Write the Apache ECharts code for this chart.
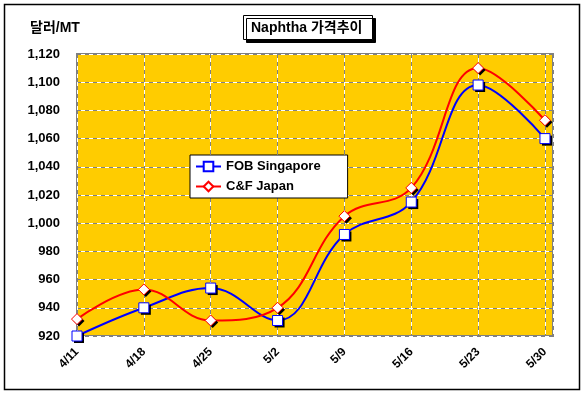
<!DOCTYPE html>
<html>
<head>
<meta charset="utf-8">
<script src="https://cdn.jsdelivr.net/npm/echarts@6/dist/echarts.min.js"></script>
<style>html,body{margin:0;padding:0;background:#fff;}#c{width:584px;height:394px;}</style>
</head>
<body>
<div id="c"></div>
<script>
const categories = ['4/11', '4/18', '4/25', '5/2', '5/9', '5/16', '5/23', '5/30'];
const fobSingapore = [920, 940, 954, 931, 992, 1015, 1098, 1060];
const cfJapan = [932, 953, 931, 940, 1005, 1025, 1110, 1073];
const seriesNames = ['FOB Singapore', 'C&F Japan'];
const yMin = 920, yMax = 1120, yStep = 20;

const FONT = '"Liberation Sans", Arial, "Noto Sans CJK KR", sans-serif';
const chart = echarts.init(document.getElementById('c'), null, {renderer: 'canvas'});

const toPairs = arr => arr.map((v, i) => [i, v]);
const fmtNum = v => v.toLocaleString('en-US');

const hiddenAxisBase = {
  axisLine: {show: false}, axisTick: {show: false}, axisLabel: {show: false}
};

const styles = [
  {color: '#0000FF', symbol: 'rect', size: 10},
  {color: '#FF0000', symbol: 'diamond', size: 11}
];
const datasets = [fobSingapore, cfJapan];

const series = [];
datasets.forEach((arr, k) => {
  const st = styles[k];
  series.push({
    name: seriesNames[k], type: 'line', smooth: 0.4,
    data: toPairs(arr),
    symbol: st.symbol, symbolSize: st.size, showSymbol: false,
    lineStyle: {color: st.color, width: 2},
    itemStyle: {color: '#fff', borderColor: st.color, borderWidth: 1},
    z: 2
  });
});
datasets.forEach((arr, k) => {
  const st = styles[k];
  series.push({
    name: 'shadow' + k, type: 'scatter', silent: true,
    data: toPairs(arr),
    symbol: st.symbol, symbolSize: st.size, symbolOffset: [2, 2],
    itemStyle: {color: '#000', opacity: 1},
    z: 3 + k * 2
  });
  series.push({
    name: 'marker' + k, type: 'scatter', silent: true,
    data: toPairs(arr),
    symbol: st.symbol, symbolSize: st.size,
    itemStyle: {color: '#fff', borderColor: st.color, borderWidth: 1, opacity: 1},
    z: 4 + k * 2
  });
});

chart.setOption({
  animation: false,
  backgroundColor: '#fff',
  title: [
    {
      text: 'Naphtha 가격추이',
      left: 243, top: 15,
      padding: [6, 10, 5, 8],
      borderColor: '#000', borderWidth: 1,
      backgroundColor: '#fff',
      shadowColor: '#000', shadowOffsetX: 3, shadowOffsetY: 3, shadowBlur: 0,
      textStyle: {fontFamily: FONT, fontSize: 14, fontWeight: 'bold', color: '#000'}
    },
    {
      text: '달러/MT',
      left: 30, top: 21,
      padding: 0,
      textStyle: {fontFamily: FONT, fontSize: 14, fontWeight: 'bold', color: '#000'}
    }
  ],
  legend: {
    orient: 'vertical',
    left: 190, top: 155,
    padding: [5, 27, 5, 5],
    itemGap: 7,
    itemWidth: 25, itemHeight: 12,
    borderColor: '#000', borderWidth: 1,
    backgroundColor: '#fff',
    data: seriesNames,
    textStyle: {fontFamily: FONT, fontSize: 13, fontWeight: 'bold', color: '#000'}
  },
  graphic: [
    {type: 'rect', shape: {x: 4.5, y: 4.5, width: 575, height: 385}, style: {fill: 'none', stroke: '#000', lineWidth: 1.5}, silent: true, z: 100}
  ],
  grid: {
    left: 77, right: 31, top: 54, bottom: 58,
    show: true, backgroundColor: '#FFCC00', borderColor: '#808080', borderWidth: 2
  },
  xAxis: [
    {
      type: 'value', min: 0, max: 7.12, interval: 1,
      axisLine: {show: false}, axisTick: {show: false},
      axisLabel: {
        rotate: 45, margin: 14,
        fontFamily: FONT, fontSize: 12, fontWeight: 'bold', color: '#000',
        showMaxLabel: false,
        formatter: v => Number.isInteger(v) ? categories[v] : ''
      },
      splitLine: {show: true, lineStyle: {color: '#808080', width: 1, type: [4, 4]}}
    },
    Object.assign({
      type: 'value', min: 0, max: 7.12, interval: 1,
      splitLine: {show: true, lineStyle: {color: '#fff', width: 1, type: [4, 4], dashOffset: 4}}
    }, hiddenAxisBase)
  ],
  yAxis: [
    {
      type: 'value', min: yMin, max: yMax, interval: yStep,
      axisLine: {show: false}, axisTick: {show: false},
      axisLabel: {
        margin: 17,
        fontFamily: FONT, fontSize: 13, fontWeight: 'bold', color: '#000',
        formatter: v => fmtNum(v)
      },
      splitLine: {show: true, lineStyle: {color: '#808080', width: 1, type: [4, 4]}}
    },
    Object.assign({
      type: 'value', min: yMin, max: yMax, interval: yStep,
      splitLine: {show: true, lineStyle: {color: '#fff', width: 1, type: [4, 4], dashOffset: 4}}
    }, hiddenAxisBase)
  ],
  series: series
});
</script>
</body>
</html>
